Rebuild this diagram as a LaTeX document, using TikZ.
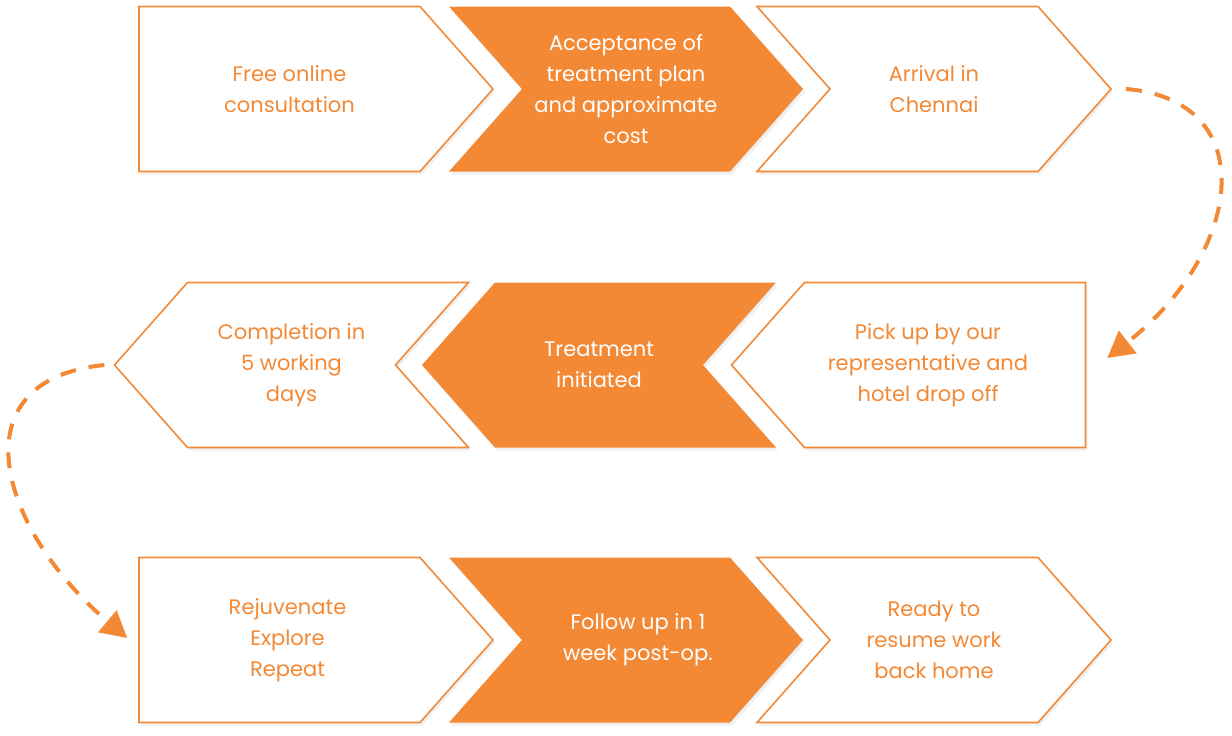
\documentclass[tikz,border=0pt]{standalone}
\usepackage{fontspec}
\setmainfont{Poppins}
\usepackage{tikz}
\usetikzlibrary{shapes,arrows,arrows.meta,positioning,calc,shadows}

\definecolor{medorange}{RGB}{243,137,53}

\begin{document}
\begin{tikzpicture}[
    x=1pt, y=1pt,
    stage/.style={signal, signal pointer angle=97, minimum width=354pt, minimum height=165pt, inner sep=0pt, line width=1.6pt, align=center, font=\fontsize{21}{31}\selectfont, drop shadow={opacity=0.12, shadow xshift=2pt, shadow yshift=-3pt}},
    plain/.style={stage, draw=medorange, fill=white, text=medorange},
    solid/.style={stage, fill=medorange, text=white},
    txt/.style={align=center, font=\fontsize{21}{31}\selectfont},
    line/.style={draw=medorange, line width=4pt, dash pattern=on 16pt off 13pt, -{Triangle[length=26pt,width=28pt]}}
]
    \useasboundingbox (0,0) rectangle (1232,-736);

    % Nodes
    \node [plain, signal to=east, label={[txt, text=medorange, xshift=10pt]center:Free online\\consultation}] (consult) at (279.5,-89) {};
    \node [solid, signal to=east, signal from=west] (accept) at (626,-89) {Acceptance of\\treatment plan\\and approximate\\cost};
    \node [plain, signal to=east, signal from=west] (arrive) at (934,-89) {Arrival in\\Chennai};

    \node [plain, signal to=west, label={[txt, text=medorange, xshift=-17pt]center:Pick up by our\\representative and\\hotel drop off}] (pickup) at (945,-365) {};
    \node [solid, signal to=west, signal from=east] (treat) at (599,-365) {Treatment\\initiated};
    \node [plain, signal to=west, signal from=east] (complete) at (291.5,-365) {Completion in\\5 working\\days};

    \node [plain, signal to=east, label={[txt, text=medorange, xshift=8pt]center:Rejuvenate\\Explore\\Repeat}] (relax) at (279.5,-640) {};
    \node [solid, signal to=east, signal from=west, label={[txt, text=white, xshift=12pt]center:Follow up in 1\\week post-op.}] (follow) at (626,-640) {};
    \node [plain, signal to=east, signal from=west] (ready) at (934,-640) {Ready to\\resume work\\back home};

    % Connections
    \draw [line] ([xshift=14pt]arrive.east) .. controls ($(arrive.east)+(149,-11)$) and ($(pickup.east)+(159,115)$) .. ([xshift=21pt,yshift=7pt]pickup.east);
    \draw [line] ([xshift=-9pt]complete.west) .. controls ($(complete.west)+(-159,-15)$) and ($(relax.west)+(-139,110)$) .. ([xshift=-11pt,yshift=2pt]relax.west);

\end{tikzpicture}
\end{document}
